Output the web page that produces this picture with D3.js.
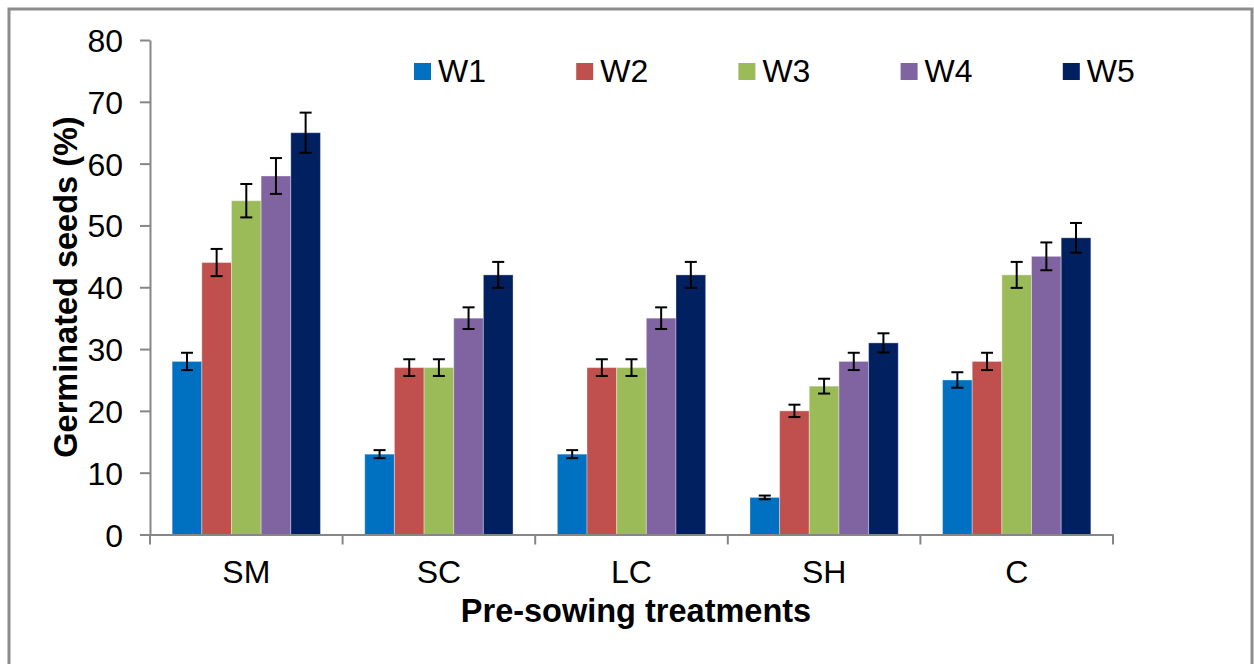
<!DOCTYPE html>
<html><head><meta charset="utf-8">
<script src="https://cdn.jsdelivr.net/npm/d3@7"></script>
<style>
html,body{margin:0;padding:0;background:#fff;}
text{font-family:"Liberation Sans",Arial,sans-serif;}
</style></head>
<body><svg id="chart" width="1254" height="664"></svg>
<script>
const categories = ["SM","SC","LC","SH","C"];
const seriesNames = ["W1","W2","W3","W4","W5"];
const seriesColors = ["#0070C0","#C0504D","#9BBB59","#8064A2","#002060"];
const W1 = [28,13,13,6,25];
const W2 = [44,27,27,20,28];
const W3 = [54,27,27,24,42];
const W4 = [58,35,35,28,45];
const W5 = [65,42,42,31,48];
const E1 = [1.4,0.65,0.65,0.3,1.25];
const E2 = [2.2,1.35,1.35,1.0,1.4];
const E3 = [2.7,1.35,1.35,1.2,2.1];
const E4 = [2.9,1.75,1.75,1.4,2.25];
const E5 = [3.25,2.1,2.1,1.55,2.4];
const yTicks = [0,10,20,30,40,50,60,70,80];

const values = [W1,W2,W3,W4,W5];
const errors = [E1,E2,E3,E4,E5];

const svg = d3.select("#chart");
// outer frame
svg.append("rect").attr("x",9).attr("y",9).attr("width",1243).attr("height",662)
  .attr("fill","none").attr("stroke","#8c8c8c").attr("stroke-width",3);

const pLeft=150, pRight=1113, pTop=40, pBottom=534.5;
const x0 = d3.scaleBand().domain(categories).range([pLeft,pRight]).paddingInner(0).paddingOuter(0);
const groupW = x0.bandwidth()*0.77;
const x1 = d3.scaleBand().domain(seriesNames).range([0,groupW]).padding(0);
const y = d3.scaleLinear().domain([0,80]).range([pBottom,pTop]);

// bars
const data = [];
categories.forEach((c,ci)=>seriesNames.forEach((s,si)=>data.push({c,s,si,v:values[si][ci],e:errors[si][ci]})));
const g = svg.append("g");
g.selectAll("rect.bar").data(data).enter().append("rect")
  .attr("x",d=>x0(d.c)+(x0.bandwidth()-groupW)/2+x1(d.s))
  .attr("y",d=>y(d.v)).attr("width",x1.bandwidth()).attr("height",d=>y(0)-y(d.v))
  .attr("fill",d=>seriesColors[d.si])
  .attr("stroke","rgba(255,255,255,0.35)").attr("stroke-width",1);

// axes
const yAxis = d3.axisLeft(y).tickValues(yTicks).tickSize(10).tickSizeOuter(0).tickPadding(17);
const ya = svg.append("g").attr("transform",`translate(${pLeft},0)`).call(yAxis);
ya.select(".domain").attr("stroke","#868686").attr("stroke-width",2);
ya.selectAll(".tick line").attr("stroke","#868686").attr("stroke-width",2);
ya.selectAll(".tick text").attr("font-size",32).attr("fill","#000").attr("dy","0.36em");

const xAxis = d3.axisBottom(x0).tickSize(0).tickPadding(0);
const xa = svg.append("g").attr("transform",`translate(0,${pBottom})`).call(xAxis);
xa.select(".domain").attr("stroke","#868686").attr("stroke-width",2);
xa.selectAll(".tick text").attr("font-size",32).attr("fill","#000").attr("y",48.5).attr("dy",0);
// category boundary ticks
const bounds = categories.map(c=>x0(c)).concat([pRight]);
svg.append("g").selectAll("line").data(bounds).enter().append("line")
  .attr("x1",d=>d).attr("x2",d=>d).attr("y1",pBottom).attr("y2",pBottom+10)
  .attr("stroke","#868686").attr("stroke-width",2);

// error bars
const eg = svg.append("g").attr("stroke","#000").attr("stroke-width",2);
data.forEach(d=>{
  const cx = x0(d.c)+(x0.bandwidth()-groupW)/2+x1(d.s)+x1.bandwidth()/2;
  const yt=y(d.v+d.e), yb=y(d.v-d.e);
  eg.append("line").attr("x1",cx).attr("x2",cx).attr("y1",yt).attr("y2",yb);
  eg.append("line").attr("x1",cx-6).attr("x2",cx+6).attr("y1",yt).attr("y2",yt);
  eg.append("line").attr("x1",cx-6).attr("x2",cx+6).attr("y1",yb).attr("y2",yb);
});

// legend
const lg = svg.append("g");
seriesNames.forEach((s,i)=>{
  const lx = 414 + i*162.2;
  lg.append("rect").attr("x",lx).attr("y",63).attr("width",17).attr("height",17).attr("fill",seriesColors[i]);
  lg.append("text").attr("x",lx+24).attr("y",82).attr("font-size",32).attr("fill","#000").text(s);
});

// titles
svg.append("text").attr("transform","translate(77,287) rotate(-90)").attr("text-anchor","middle")
  .attr("font-size",32.5).attr("font-weight","bold").text("Germinated seeds (%)");
svg.append("text").attr("x",636).attr("y",622).attr("text-anchor","middle")
  .attr("font-size",32.5).attr("font-weight","bold").text("Pre-sowing treatments");
</script></body></html>
